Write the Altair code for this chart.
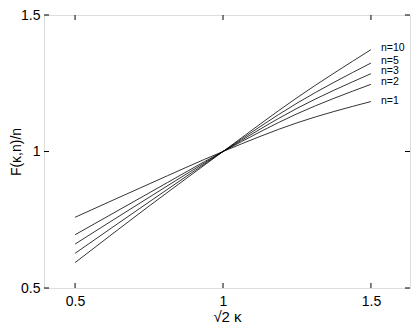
import altair as alt
import pandas as pd

# x positions (sqrt(2)*kappa) at which curves were read
x_vals = [0.5, 0.75, 1.0, 1.25, 1.5]
series_names = ["n=1", "n=2", "n=3", "n=5", "n=10"]
n1 = [0.759, 0.881, 1.0, 1.105, 1.183]
n2 = [0.695, 0.848, 1.0, 1.138, 1.246]
n3 = [0.661, 0.832, 1.0, 1.158, 1.285]
n5 = [0.627, 0.815, 1.0, 1.177, 1.324]
n10 = [0.593, 0.800, 1.0, 1.197, 1.373]
label_y = [1.184, 1.255, 1.294, 1.333, 1.380]
x_ticks = [0.5, 1.0, 1.5]
y_ticks = [0.5, 1.0, 1.5]

rows = []
for name, vals in zip(series_names, [n1, n2, n3, n5, n10]):
    for xv, yv in zip(x_vals, vals):
        rows.append({"x": xv, "y": yv, "n": name})
df = pd.DataFrame(rows)
labels = pd.DataFrame({"x": [1.5] * 5, "y": label_y, "n": series_names})
xt = pd.DataFrame({"t": x_ticks})
yt = pd.DataFrame({"t": y_ticks})

W, H = 366, 273
FONT = "Liberation Sans"

xscale = alt.Scale(domain=[0.395, 1.632], nice=False, zero=False)
yscale = alt.Scale(domain=[0.5, 1.5], nice=False, zero=False)

xaxis = alt.Axis(values=x_ticks, title="√2 κ", grid=False, domain=False, ticks=False,
                 labelPadding=6, labelFontSize=14, labelFont=FONT, labelColor="black",
                 titleFontSize=15, titleFont=FONT, titleFontWeight="normal", titleColor="black",
                 titleY=33, titleBaseline="alphabetic",
                 labelExpr="datum.value == 1 ? '1' : format(datum.value, '.1f')")
yaxis = alt.Axis(values=y_ticks, title="F(κ,n)/n", grid=False, domain=False, ticks=False,
                 labelPadding=4, labelFontSize=14, labelFont=FONT, labelColor="black",
                 titleFontSize=14, titleFont=FONT, titleFontWeight="normal", titleColor="black",
                 titleX=-28, titleY=H / 2, titleAngle=-90, titleBaseline="middle",
                 labelExpr="datum.value == 1 ? '1' : format(datum.value, '.1f')")

lines = alt.Chart(df).mark_line(color="black", strokeWidth=0.8, interpolate="monotone").encode(
    x=alt.X("x:Q", scale=xscale, axis=xaxis),
    y=alt.Y("y:Q", scale=yscale, axis=yaxis),
    detail="n:N",
)

text = alt.Chart(labels).mark_text(align="left", baseline="middle", dx=10, fontSize=10.5,
                                   font=FONT, color="black").encode(
    x=alt.X("x:Q", scale=xscale),
    y=alt.Y("y:Q", scale=yscale),
    text="n:N",
)

tb = alt.Chart(xt).mark_rule(color="black", strokeWidth=1).encode(
    x=alt.X("t:Q", scale=xscale), y=alt.value(H), y2=alt.value(H - 5))
tt = alt.Chart(xt).mark_rule(color="black", strokeWidth=1).encode(
    x=alt.X("t:Q", scale=xscale), y=alt.value(0), y2=alt.value(5))
tl = alt.Chart(yt).mark_rule(color="black", strokeWidth=1).encode(
    y=alt.Y("t:Q", scale=yscale), x=alt.value(0), x2=alt.value(5))
tr = alt.Chart(yt).mark_rule(color="black", strokeWidth=1).encode(
    y=alt.Y("t:Q", scale=yscale), x=alt.value(W), x2=alt.value(W - 5))

chart = alt.layer(lines, text, tb, tt, tl, tr).properties(
    width=W, height=H,
    autosize=alt.AutoSizeParams(type="none"),
    padding={"left": 36, "top": 7, "right": 1, "bottom": 36},
).configure_view(stroke="black", strokeWidth=1).configure(background="white")

chart.save("out.html", embed_options={"renderer": "svg", "actions": False})
